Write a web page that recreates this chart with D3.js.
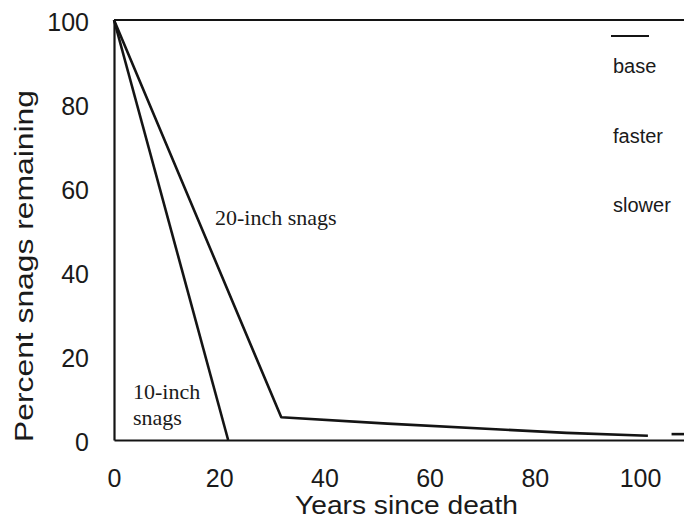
<!DOCTYPE html>
<html>
<head>
<meta charset="utf-8">
<script src="https://cdn.jsdelivr.net/npm/d3@7"></script>
<style>
  body { margin: 0; background: #fff; }
  svg { display: block; }
  .tick text { font-family: "Liberation Sans", Arial, sans-serif; font-size: 25px; fill: #1a1a1a; }
</style>
</head>
<body>
<div id="container"></div>
<script>
/* DATA */
const xTicks = [0, 20, 40, 60, 80, 100];
const yTicks = [0, 20, 40, 60, 80, 100];

// 10-inch snags
const tenInchYears = [0, 21.7];
const tenInchPct = [100, 0];

// 20-inch snags
const twentyInchYears = [0, 31.8, 52, 86, 101.5];
const twentyInchPct = [100, 5.4, 3.9, 1.7, 1.0];

// short piece on the right edge
const tailYears = [106, 110];
const tailPct = [1.4, 1.4];

const legendLabels = ["base", "faster", "slower"];

/* CONSTANTS */
const width = 684, height = 520;
const ink = "#141414";

const svg = d3.select("#container")
  .append("svg")
  .attr("width", width)
  .attr("height", height);

// SCALES
const xScale = d3.scaleLinear()
  .domain([0, 110])
  .range([114, 114 + 110 * 5.26]);

const yScale = d3.scaleLinear()
  .domain([0, 100])
  .range([440, 20]);

// AXES
const xAxis = d3.axisBottom(xScale)
  .tickValues(xTicks)
  .tickSize(0)
  .tickSizeOuter(0)
  .tickPadding(29);

const xAxisGroup = svg.append("g")
  .attr("transform", `translate(0, ${yScale(0)})`)
  .call(xAxis);
xAxisGroup.select(".domain").attr("stroke", ink).attr("stroke-width", 2.2);

const yAxis = d3.axisLeft(yScale)
  .tickValues(yTicks)
  .tickSize(0)
  .tickSizeOuter(0)
  .tickPadding(25);

const yAxisGroup = svg.append("g")
  .attr("transform", `translate(${xScale(0)}, 0)`)
  .call(yAxis);
yAxisGroup.select(".domain").attr("stroke", ink).attr("stroke-width", 2.2);
yAxisGroup.selectAll(".tick text").attr("dy", "0.42em");

// top frame line
svg.append("line")
  .attr("x1", xScale(0)).attr("x2", xScale(110))
  .attr("y1", yScale(100)).attr("y2", yScale(100))
  .attr("stroke", ink).attr("stroke-width", 2.2);

// AXIS TITLES
svg.append("text")
  .attr("x", 295).attr("y", 514)
  .attr("textLength", 223)
  .attr("lengthAdjust", "spacingAndGlyphs")
  .style("font-family", "Liberation Sans, Arial, sans-serif")
  .style("font-size", "25px")
  .attr("fill", "#1a1a1a")
  .text("Years since death");

svg.append("text")
  .attr("transform", "translate(33, 442) rotate(-90)")
  .attr("textLength", 352)
  .attr("lengthAdjust", "spacingAndGlyphs")
  .style("font-family", "Liberation Sans, Arial, sans-serif")
  .style("font-size", "25px")
  .attr("fill", "#1a1a1a")
  .text("Percent snags remaining");

// LINES
const lineGen = d3.line()
  .x(d => xScale(d[0]))
  .y(d => yScale(d[1]));

const series = [
  d3.zip(tenInchYears, tenInchPct),
  d3.zip(twentyInchYears, twentyInchPct),
  d3.zip(tailYears, tailPct)
];

svg.selectAll(".line")
  .data(series)
  .join("path")
  .attr("class", "line")
  .attr("fill", "none")
  .attr("stroke", ink)
  .attr("stroke-width", 2.6)
  .attr("stroke-linejoin", "round")
  .attr("d", d => lineGen(d));

// ANNOTATIONS
const serif = "Liberation Serif, Times New Roman, serif";
svg.append("text")
  .attr("x", 215).attr("y", 225)
  .style("font-family", serif).style("font-size", "22px")
  .attr("fill", "#1a1a1a")
  .text("20-inch snags");

svg.append("text")
  .attr("x", 133).attr("y", 399)
  .style("font-family", serif).style("font-size", "22px")
  .attr("fill", "#1a1a1a")
  .text("10-inch");

svg.append("text")
  .attr("x", 133).attr("y", 425)
  .style("font-family", serif).style("font-size", "22px")
  .attr("fill", "#1a1a1a")
  .text("snags");

// LEGEND
svg.append("line")
  .attr("x1", 611).attr("x2", 649)
  .attr("y1", 36).attr("y2", 36)
  .attr("stroke", ink).attr("stroke-width", 2.2);

svg.selectAll(".legend")
  .data(legendLabels)
  .join("text")
  .attr("class", "legend")
  .attr("x", 613)
  .attr("y", (d, i) => 73 + i * 69.5)
  .style("font-family", "Liberation Sans, Arial, sans-serif")
  .style("font-size", "20px")
  .attr("fill", "#1a1a1a")
  .text(d => d);
</script>
</body>
</html>
